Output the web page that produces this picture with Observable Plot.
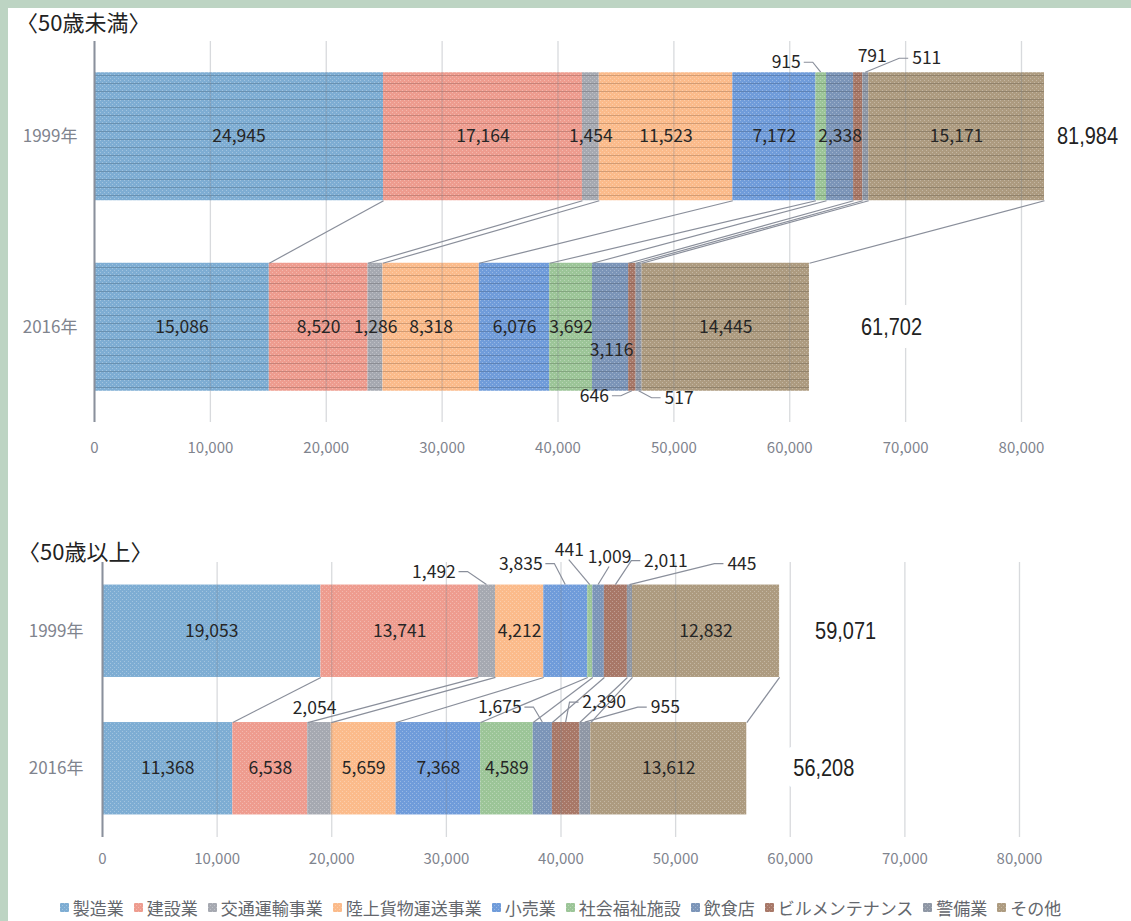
<!DOCTYPE html>
<html><head><meta charset="utf-8">
<script src="https://cdn.jsdelivr.net/npm/d3@7"></script>
<script src="https://cdn.jsdelivr.net/npm/@observablehq/plot@0.6"></script>
<style>
html,body{margin:0;padding:0;}
body{width:1131px;height:921px;background:#BDD4C3;position:relative;overflow:hidden;font-family:"Noto Sans CJK JP",sans-serif;}
#page{position:absolute;left:8px;top:8px;right:0;bottom:0;background:#fff;}
.title{position:absolute;font-size:22px;color:#222;line-height:1;white-space:nowrap;}
.panel{position:absolute;left:0;}
#legend{position:absolute;left:0;width:1131px;top:891px;}
#legend .lg-swatches{font-family:"Noto Sans CJK JP",sans-serif !important;font-size:17px !important;color:#64676d;justify-content:center;margin:0;}
#legend .lg-swatch{margin-right:10px !important;}
#legend .lg-swatch > svg{margin-right:4px !important;}
</style></head><body>
<svg width="0" height="0" style="position:absolute"><defs id="pats"></defs></svg>
<div id="page"></div>
<div class="title" style="left:16px;top:10px">〈50歳未満〉</div>
<div class="title" style="left:18px;top:539px">〈50歳以上〉</div>
<div class="panel" id="p1" style="top:36px"></div>
<div class="panel" id="p2" style="top:557px"></div>
<div id="legend"></div>
<script>
// ---- data ----
const categories = ["製造業","建設業","交通運輸事業","陸上貨物運送事業","小売業","社会福祉施設","飲食店","ビルメンテナンス","警備業","その他"];
const years = ["1999年","2016年"];
const under50_1999 = [24945,17164,1454,11523,7172,915,2338,791,511,15171];
const under50_2016 = [15086,8520,1286,8318,6076,3692,3116,646,517,14445];
const over50_1999 = [19053,13741,1492,4212,3835,441,1009,2011,445,12832];
const over50_2016 = [11368,6538,2054,5659,7368,4589,1675,2390,955,13612];
const xTicks = [0,10000,20000,30000,40000,50000,60000,70000,80000];

// ---- styles ----
const colors = ["#7EADD3","#EE9C8F","#A6A9B1","#FBBB8B","#709CDA","#9CC598","#7C95B8","#A87868","#8F97A5","#AD9B80"];
const fmt = d3.format(",");
const defs = d3.select("#pats");
colors.forEach((c,i)=>{
  for (const striped of [true,false]) {
    const p = defs.append("pattern").attr("id",(striped?"ps":"pp")+i)
      .attr("patternUnits","userSpaceOnUse").attr("width",4).attr("height",8);
    p.append("rect").attr("width",4).attr("height",8).attr("fill",c);
    for (const [dx,dy] of [[0,0],[2,2],[0,4],[2,6]])
      p.append("rect").attr("x",dx).attr("y",dy).attr("width",1).attr("height",1).attr("fill","#fff").attr("fill-opacity",0.28);
    if (striped) p.append("rect").attr("y",7).attr("width",4).attr("height",1).attr("fill",d3.color(c).darker(0.5).formatHex());
  }
});
const stripedIds = colors.map((c,i)=>`url(#ps${i})`);
const plainIds = colors.map((c,i)=>`url(#pp${i})`);

const H = 0.336; // half bar thickness in band units
function textWidth(s, size){ let w=0; for (const ch of s) w += ch===","?0.28:0.55; return w*size; }

function leaderMark(items){
  return (index, scales) => {
    const g = d3.create("svg:g").attr("fill","none").attr("stroke","#8A8F9B").attr("stroke-width",1.2);
    for (const it of items) {
      if (it.leader==="none") continue;
      const sx = scales.x(it.xc), sy = scales.y(it.ey);
      const lx = sx + it.dx, ly = sy + it.dy, half = it.w/2;
      let pts;
      if (it.leader==="right") pts = [[lx+half+4, ly],[lx+half+13, ly],[sx, sy]];
      else if (it.leader==="left") pts = [[lx-half-4, ly],[lx-half-13, ly],[sx, sy]];
      else pts = [[lx, ly+10],[sx, sy]];
      g.append("path").attr("d", d3.line()(pts));
    }
    return g.node();
  };
}

function panel(el, cfg){
  const {v99, v16, ml, mr, mt, plotH, mb, xPad, yPad, callouts, totalDx, halo, fills} = cfg;
  const vals = [v99, v16];
  const cums = vals.map(v => [0, ...d3.cumsum(v)]);
  const rows = [];
  vals.forEach((v,yi)=>v.forEach((value,j)=>rows.push({yi, j, cat: categories[j], value, x1: cums[yi][j], x2: cums[yi][j+1]})));
  const links = categories.map((c,j)=>({a: cums[0][j+1], b: cums[1][j+1]}));
  const isCallout = r => callouts.some(c => c.yi===r.yi && c.j===r.j);
  const inside = rows.filter(r => !isCallout(r));
  const items = callouts.map(c => {
    const r = rows.find(r => r.yi===c.yi && r.j===c.j);
    const ey = c.edge==="top" ? c.yi - H : c.edge==="bottom" ? c.yi + H : c.yi;
    const s = fmt(r.value);
    return {...c, xc: (r.x1+r.x2)/2, ey, s, w: textWidth(s,17)};
  });
  const totalStrs = [0,1].map(yi => fmt(cums[yi][10]));
  const marks = [
    Plot.rect(rows, {x1:"x1", x2:"x2", y1: d=>d.yi-H, y2: d=>d.yi+H, fill:"cat"}),
    Plot.gridX({ticks: xTicks, stroke:"#7d8390", strokeOpacity:0.3, strokeWidth:1.3}),
    Plot.link(links, {x1:"a", y1: H, x2:"b", y2: 1-H, stroke:"#8A8F9B", strokeWidth:1.2}),
    Plot.ruleX([0], {stroke:"#8a909c", strokeWidth:2}),
    Plot.axisX({ticks: xTicks, tickFormat: fmt, tickSize:0, tickPadding:xPad, fontSize:15, color:"#7f848e"}),
    Plot.axisY({ticks:[0,1], tickFormat: i=>years[i], tickSize:0, tickPadding:yPad, fontSize:17, color:"#7f848e"}),
    Plot.text(inside, {x: d=>(d.x1+d.x2)/2, y:"yi", text: d=>fmt(d.value), fontSize:17.5, fill:"#262626"}),
    leaderMark(items),
    ...items.map(it => Plot.text([it], {x:"xc", y:"ey", text:"s", dx: it.dx, dy: it.dy, fontSize:17.5, fill:"#262626"})),
    ...[0,1].map(yi => Plot.text([{yi, t: cums[yi][10]}], {x:"t", y:"yi", text: d=>fmt(d.t), dx: totalDx[yi], fontSize:24,
      fontFamily:"'Liberation Sans',sans-serif", fill:"#222", stroke: halo[yi] ? "#fff" : "none", strokeWidth: halo[yi]}))
  ];
  const chart = Plot.plot({
    width: 1131, height: mt+plotH+mb, marginLeft: ml, marginRight: mr, marginTop: mt, marginBottom: mb,
    x: {domain:[0,80000]},
    y: {domain:[-0.5,1.5], reverse:true},
    color: {type:"ordinal", domain: categories, range: fills},
    style: {fontFamily:"'Noto Sans CJK JP',sans-serif", background:"transparent", overflow:"visible"},
    marks
  });
  // condense the total labels (narrow face like the original)
  d3.select(chart).selectAll("text").filter(function(){ return totalStrs.includes(this.textContent); })
    .attr("textLength", 61).attr("lengthAdjust","spacingAndGlyphs");
  el.appendChild(chart);
}

panel(document.getElementById("p1"), {
  v99: under50_1999, v16: under50_2016, ml:94, mr:110, mt:5, plotH:381, mb:40, xPad:20, yPad:17, fills: stripedIds,
  totalDx:[43,82], halo:[0,26],
  callouts:[
    {yi:0, j:5, edge:"top", dx:-35, dy:-10, leader:"right"},
    {yi:0, j:7, edge:"top", dx:14, dy:-16, leader:"none"},
    {yi:0, j:8, edge:"top", dx:61, dy:-14, leader:"left"},
    {yi:1, j:6, edge:"center", dx:1, dy:23, leader:"none"},
    {yi:1, j:7, edge:"bottom", dx:-38, dy:5, leader:"right"},
    {yi:1, j:8, edge:"bottom", dx:40, dy:7, leader:"left"}
  ]
});
panel(document.getElementById("p2"), {
  v99: over50_1999, v16: over50_2016, ml:102, mr:112, mt:5, plotH:275, mb:40, xPad:16, yPad:19, fills: plainIds,
  totalDx:[66,77], halo:[0,26],
  callouts:[
    {yi:0, j:2, edge:"top", dx:-53, dy:-13, leader:"right"},
    {yi:0, j:4, edge:"top", dx:-45, dy:-21, leader:"right"},
    {yi:0, j:5, edge:"top", dx:-21, dy:-35, leader:"below"},
    {yi:0, j:6, edge:"top", dx:11, dy:-28, leader:"below"},
    {yi:0, j:7, edge:"top", dx:50, dy:-24, leader:"left"},
    {yi:0, j:8, edge:"top", dx:112, dy:-21, leader:"left"},
    {yi:1, j:2, edge:"top", dx:-5, dy:-14, leader:"none"},
    {yi:1, j:6, edge:"top", dx:-43, dy:-15, leader:"right"},
    {yi:1, j:7, edge:"top", dx:38, dy:-20, leader:"left"},
    {yi:1, j:8, edge:"top", dx:80, dy:-15, leader:"left"}
  ]
});

document.getElementById("legend").appendChild(Plot.legend({
  color: {type:"ordinal", domain: categories, range: plainIds},
  legend: "swatches", swatchSize: 9, className: "lg"
}));
</script>
</body></html>
